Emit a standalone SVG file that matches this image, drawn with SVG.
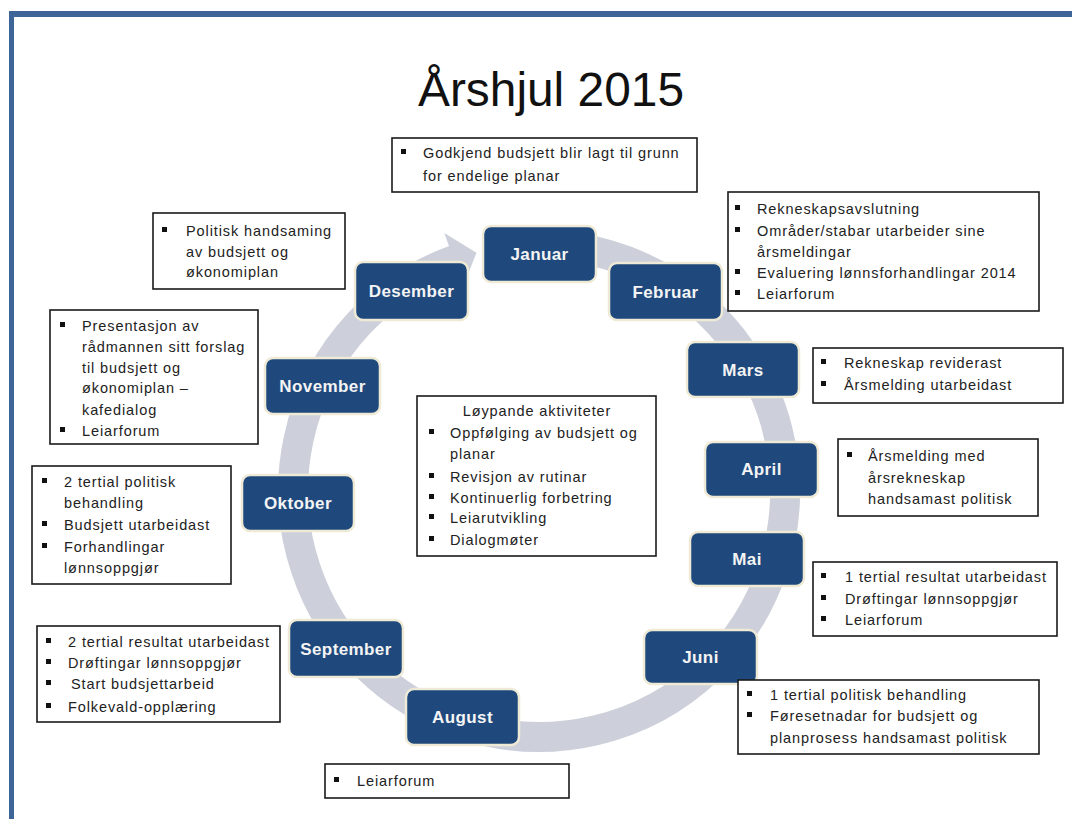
<svg xmlns="http://www.w3.org/2000/svg" width="1072" height="819" viewBox="0 0 1072 819">
<defs>
<style>
.frame{fill:#3d6598}
.ring{fill:none;stroke:#cdd0da;stroke-width:30}
.arrowhead{fill:#cdd0da}
.month rect{fill:#1f497d;stroke:#eeead6;stroke-width:2.5}
.month text{font-family:"Liberation Sans",Arial,sans-serif;font-weight:bold;font-size:17px;letter-spacing:0.4px;fill:#f4f4f4;text-anchor:middle}
.note rect.box{fill:#fff;stroke:#1a1a1a;stroke-width:1.6}
.note text{font-family:"Liberation Sans",Arial,sans-serif;font-size:14.5px;letter-spacing:0.9px;fill:#222}
.note rect.b{fill:#111}
.title{font-family:"Liberation Sans",Arial,sans-serif;font-size:48px;fill:#111}
</style>
</defs>
<rect width="1072" height="819" fill="#fff"/>
<rect class="frame" x="9" y="11" width="1063" height="6"/>
<rect class="frame" x="9" y="11" width="5" height="808"/>
<text class="title" x="418" y="106" textLength="266" lengthAdjust="spacingAndGlyphs">Årshjul 2015</text>

<g id="connectors">
<path class="ring" d="M 513.3 246.3 A 246 246 0 1 1 454.9 259.8"/>
<polygon class="arrowhead" points="444.3,233 476.4,252.8 463.4,286.1"/>
</g>

<g id="januar" class="month"><rect x="483" y="226" width="113" height="56" rx="8"/><text x="539.5" y="260">Januar</text></g>
<g id="februar" class="month"><rect x="609" y="263" width="113" height="57" rx="8"/><text x="665.5" y="298">Februar</text></g>
<g id="mars" class="month"><rect x="687" y="342" width="112" height="55" rx="8"/><text x="743" y="376">Mars</text></g>
<g id="april" class="month"><rect x="705" y="442" width="113" height="55" rx="8"/><text x="761.5" y="475">April</text></g>
<g id="mai" class="month"><rect x="690" y="532" width="114" height="54" rx="8"/><text x="747" y="565">Mai</text></g>
<g id="juni" class="month"><rect x="644" y="630" width="113" height="54" rx="8"/><text x="700.5" y="663">Juni</text></g>
<g id="august" class="month"><rect x="406" y="689" width="113" height="56" rx="8"/><text x="462.5" y="723">August</text></g>
<g id="september" class="month"><rect x="289" y="620" width="114" height="57" rx="8"/><text x="346" y="655">September</text></g>
<g id="oktober" class="month"><rect x="242" y="475" width="112" height="56" rx="8"/><text x="298" y="509">Oktober</text></g>
<g id="november" class="month"><rect x="265" y="358" width="115" height="56" rx="8"/><text x="322.5" y="392">November</text></g>
<g id="desember" class="month"><rect x="355" y="262" width="113" height="58" rx="8"/><text x="411.5" y="297">Desember</text></g>

<g id="note-januar" class="note">
<rect class="box" x="392" y="138" width="305" height="54"/>
<rect class="b" x="401" y="149" width="5" height="5"/>
<text x="423" y="158">Godkjend budsjett blir lagt til grunn</text>
<text x="423" y="181">for endelige planar</text>
</g>

<g id="note-februar" class="note">
<rect class="box" x="728" y="192" width="311" height="119"/>
<rect class="b" x="735" y="205" width="5" height="5"/>
<text x="757" y="214">Rekneskapsavslutning</text>
<rect class="b" x="735" y="227" width="5" height="5"/>
<text x="757" y="236">Områder/stabar utarbeider sine</text>
<text x="757" y="257">årsmeldingar</text>
<rect class="b" x="735" y="269" width="5" height="5"/>
<text x="757" y="278">Evaluering lønnsforhandlingar 2014</text>
<rect class="b" x="735" y="290" width="5" height="5"/>
<text x="757" y="299">Leiarforum</text>
</g>

<g id="note-mars" class="note">
<rect class="box" x="813" y="348" width="250" height="55"/>
<rect class="b" x="821" y="359" width="5" height="5"/>
<text x="844" y="368">Rekneskap reviderast</text>
<rect class="b" x="821" y="381" width="5" height="5"/>
<text x="844" y="390">Årsmelding utarbeidast</text>
</g>

<g id="note-april" class="note">
<rect class="box" x="838" y="439" width="200" height="77"/>
<rect class="b" x="847" y="452" width="5" height="5"/>
<text x="868" y="461">Årsmelding med</text>
<text x="868" y="483">årsrekneskap</text>
<text x="868" y="504">handsamast politisk</text>
</g>

<g id="note-mai" class="note">
<rect class="box" x="813" y="562" width="244" height="74"/>
<rect class="b" x="821" y="573" width="5" height="5"/>
<text x="845" y="582">1 tertial resultat utarbeidast</text>
<rect class="b" x="821" y="595" width="5" height="5"/>
<text x="845" y="604">Drøftingar lønnsoppgjør</text>
<rect class="b" x="821" y="616" width="5" height="5"/>
<text x="845" y="625">Leiarforum</text>
</g>

<g id="note-juni" class="note">
<rect class="box" x="738" y="680" width="301" height="74"/>
<rect class="b" x="747" y="691" width="5" height="5"/>
<text x="770" y="700">1 tertial politisk behandling</text>
<rect class="b" x="747" y="712" width="5" height="5"/>
<text x="770" y="721">Føresetnadar for budsjett og</text>
<text x="770" y="743">planprosess handsamast politisk</text>
</g>

<g id="note-august" class="note">
<rect class="box" x="325" y="764" width="244" height="34"/>
<rect class="b" x="334" y="777" width="5" height="5"/>
<text x="357" y="786">Leiarforum</text>
</g>

<g id="note-september" class="note">
<rect class="box" x="37" y="626" width="243" height="96"/>
<rect class="b" x="46" y="638" width="5" height="5"/>
<text x="68" y="647">2 tertial resultat utarbeidast</text>
<rect class="b" x="46" y="659" width="5" height="5"/>
<text x="68" y="668">Drøftingar lønnsoppgjør</text>
<rect class="b" x="46" y="680" width="5" height="5"/>
<text x="71" y="689">Start budsjettarbeid</text>
<rect class="b" x="46" y="703" width="5" height="5"/>
<text x="68" y="712">Folkevald-opplæring</text>
</g>

<g id="note-oktober" class="note">
<rect class="box" x="32" y="466" width="199" height="118"/>
<rect class="b" x="42" y="478" width="5" height="5"/>
<text x="64" y="487">2 tertial politisk</text>
<text x="64" y="508">behandling</text>
<rect class="b" x="42" y="521" width="5" height="5"/>
<text x="64" y="530">Budsjett utarbeidast</text>
<rect class="b" x="42" y="543" width="5" height="5"/>
<text x="64" y="552">Forhandlingar</text>
<text x="64" y="573">lønnsoppgjør</text>
</g>

<g id="note-november" class="note">
<rect class="box" x="50" y="310" width="208" height="134"/>
<rect class="b" x="60" y="322" width="5" height="5"/>
<text x="82" y="331">Presentasjon av</text>
<text x="82" y="352">rådmannen sitt forslag</text>
<text x="82" y="373">til budsjett og</text>
<text x="82" y="393">økonomiplan –</text>
<text x="82" y="415">kafedialog</text>
<rect class="b" x="60" y="427" width="5" height="5"/>
<text x="82" y="436">Leiarforum</text>
</g>

<g id="note-desember" class="note">
<rect class="box" x="153" y="213" width="192" height="76"/>
<rect class="b" x="162" y="227" width="5" height="5"/>
<text x="186" y="236">Politisk handsaming</text>
<text x="186" y="257">av budsjett og</text>
<text x="186" y="277">økonomiplan</text>
</g>

<g id="note-lopande" class="note">
<rect class="box" x="417" y="396" width="239" height="160"/>
<text x="537" y="416" text-anchor="middle">Løypande aktiviteter</text>
<rect class="b" x="429" y="429" width="5" height="5"/>
<text x="450" y="438">Oppfølging  av budsjett og</text>
<text x="450" y="459">planar</text>
<rect class="b" x="429" y="473" width="5" height="5"/>
<text x="450" y="482">Revisjon av rutinar</text>
<rect class="b" x="429" y="494" width="5" height="5"/>
<text x="450" y="503">Kontinuerlig forbetring</text>
<rect class="b" x="429" y="514" width="5" height="5"/>
<text x="450" y="523">Leiarutvikling</text>
<rect class="b" x="429" y="536" width="5" height="5"/>
<text x="450" y="545">Dialogmøter</text>
</g>
</svg>
